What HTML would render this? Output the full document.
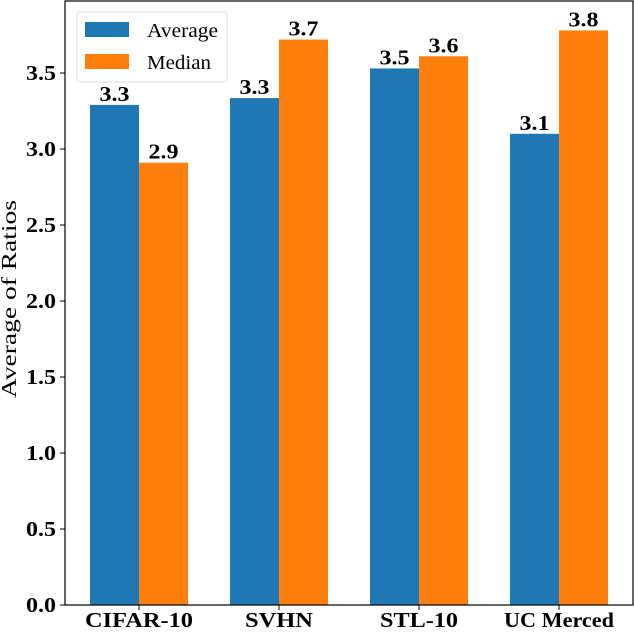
<!DOCTYPE html>
<html><head><meta charset="utf-8"><style>
body{margin:0;background:#fff}
svg text{font-family:"Liberation Serif",serif}
</style></head><body>
<svg id="c" width="634" height="630" xmlns="http://www.w3.org/2000/svg"></svg>
<script>
const categories=["CIFAR-10","SVHN","STL-10","UC Merced"];
const averageVals=[3.29,3.335,3.53,3.10];
const medianVals=[2.91,3.72,3.61,3.78];
const averageLabels=["3.3","3.3","3.5","3.1"];
const medianLabels=["2.9","3.7","3.6","3.8"];
const yTicks=[0,0.5,1,1.5,2,2.5,3,3.5];
const yTickLabels=["0.0","0.5","1.0","1.5","2.0","2.5","3.0","3.5"];
const catWidths=[108,68,78,110];
const NS="http://www.w3.org/2000/svg";
const svg=document.getElementById('c');
const L=65,R=633,T=1,B=605;
const xs=i=>139+140*i;
const ys=v=>B-v*152;
const bw=49;
function mk(t,a,txt){const e=document.createElementNS(NS,t);for(const k in a)e.setAttribute(k,a[k]);if(txt!=null)e.textContent=txt;svg.appendChild(e);return e;}
categories.forEach((c,i)=>{
  let e=mk('rect',{x:xs(i)-bw,y:ys(averageVals[i]),width:bw,height:B-ys(averageVals[i]),fill:'#1f77b4'});
  
  
  e=mk('rect',{x:xs(i),y:ys(medianVals[i]),width:bw,height:B-ys(medianVals[i]),fill:'#ff7f0e'});
  
  
  e=mk('text',{x:xs(i)-bw/2,y:ys(averageVals[i])-4,'text-anchor':'middle','font-size':21,'font-weight':'bold',textLength:30,lengthAdjust:'spacingAndGlyphs'},averageLabels[i]);
  
  
  e=mk('text',{x:xs(i)+bw/2,y:ys(medianVals[i])-4,'text-anchor':'middle','font-size':21,'font-weight':'bold',textLength:30,lengthAdjust:'spacingAndGlyphs'},medianLabels[i]);
  
  
  mk('line',{x1:xs(i),x2:xs(i),y1:B,y2:B+5,stroke:'#000'});
  e=mk('text',{x:xs(i),y:627,'text-anchor':'middle','font-size':21,'font-weight':'bold',textLength:catWidths[i],lengthAdjust:'spacingAndGlyphs'},c);
  
  
});
yTicks.forEach((v,i)=>{
  mk('line',{x1:L-5,x2:L,y1:ys(v),y2:ys(v),stroke:'#000'});
  const e=mk('text',{x:L-9,y:ys(v)+7,'text-anchor':'end','font-size':21,'font-weight':'bold',textLength:30,lengthAdjust:'spacingAndGlyphs'},yTickLabels[i]);
  
  
});
let f=mk('rect',{x:L,y:T,width:R-L,height:B-T,fill:'none',stroke:'#000','stroke-width':1.2});

let yt=mk('text',{x:16,y:299,'text-anchor':'middle','font-size':21,transform:'rotate(-90 16 299)',textLength:198,lengthAdjust:'spacingAndGlyphs'},'Average of Ratios');

let lg=mk('rect',{x:77,y:12,width:150,height:70,rx:3,fill:'#fff',stroke:'#ddd'});

mk('rect',{x:85,y:22,width:44,height:15,fill:'#1f77b4'});
mk('rect',{x:85,y:54,width:44,height:15,fill:'#ff7f0e'});
let l1=mk('text',{x:147,y:37,'font-size':20,textLength:71,lengthAdjust:'spacingAndGlyphs'},'Average');

let l2=mk('text',{x:147,y:69,'font-size':20,textLength:64,lengthAdjust:'spacingAndGlyphs'},'Median');

</script>
</body></html>
